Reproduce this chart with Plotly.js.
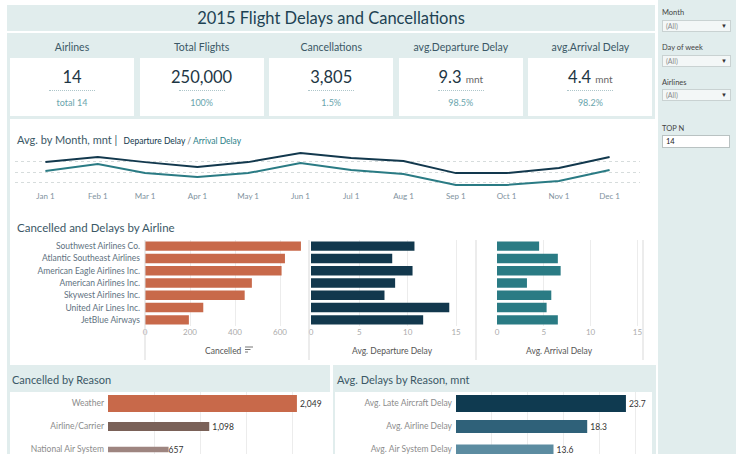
<!DOCTYPE html>
<html><head><meta charset="utf-8">
<script src="https://cdn.plot.ly/plotly-3.0.1.min.js"></script>
<style>
body{margin:0;width:736px;height:454px;overflow:hidden;background:#fff;position:relative;font-family:'Lato',sans-serif;}
.a{position:absolute}
.teal{background:#e1eded}
.kh{position:absolute;top:40px;height:15px;line-height:15px;text-align:center;font-size:10.5px;color:#3b5866;width:124px}
.card{position:absolute;top:58px;height:58px;width:124px;background:#fff}
.kv{position:absolute;top:8px;left:0;width:100%;text-align:center;font-size:16.5px;color:#1d3644;line-height:22px}
.kv span{font-size:10px;color:#666}
.dot{position:absolute;top:32px;left:39px;width:46px;border-top:1px dotted #aec6ca}
.ks{position:absolute;top:38px;left:0;width:100%;text-align:center;font-size:9px;color:#6aa5ad;line-height:14px}
.sl{position:absolute;left:662px;font-size:7.5px;color:#444}
.dd{position:absolute;left:662px;width:64px;height:10px;background:#f3f7f7;border:1px solid #c9d2d2;font-size:7px;color:#8a8a8a;line-height:10px;padding-left:3px;box-sizing:content-box}
.dd b{position:absolute;right:3px;top:0;font-weight:normal;color:#333;font-size:6px}
</style></head><body>

<!-- title -->
<div class="a teal" style="left:7px;top:5px;width:648px;height:26px;"></div>
<div class="a" id="title" style="left:7px;top:5px;width:648px;height:26px;line-height:26px;text-align:center;font-size:16.5px;color:#1d4253;">2015 Flight Delays and Cancellations</div>

<!-- KPI panel -->
<div class="a teal" id="kpi" style="left:7px;top:33px;width:648px;height:86px;"></div>

<!-- main white panel with teal left strip -->
<div class="a teal" style="left:7px;top:119px;width:3px;height:246px;"></div>
<div class="a" style="left:17px;top:130px;height:15px;line-height:15px;white-space:nowrap;">
  <span style="font-size:11px;color:#3b5866;">Avg. by Month, mnt |</span>
  <span style="font-size:8.5px;color:#12384d;">&nbsp;Departure Delay</span><span style="font-size:8.5px;color:#777;"> / </span><span style="font-size:8.5px;color:#2a8088;">Arrival Delay</span>
</div>
<div class="a" id="monthChart" style="left:15px;top:140px;width:625px;height:72px;"></div>

<div class="a" style="left:17px;top:220px;height:16px;line-height:16px;font-size:11.5px;color:#3b5866;white-space:nowrap;">Cancelled and Delays by Airline</div>
<div class="a" id="airlineChart" style="left:0px;top:215px;width:656px;height:150px;"></div>

<!-- bottom panels -->
<div class="a teal" style="left:7px;top:365px;width:323px;height:89px;"></div>
<div class="a" style="left:12px;top:372px;height:16px;line-height:16px;font-size:11px;color:#3b5866;white-space:nowrap;">Cancelled by Reason</div>
<div class="a" style="left:10px;top:392px;width:320px;height:62px;background:#fff;"></div>
<div class="a" id="cancelReasonChart" style="left:10px;top:392px;width:320px;height:80px;"></div>

<div class="a teal" style="left:333px;top:365px;width:323px;height:89px;"></div>
<div class="a" style="left:337px;top:372px;height:16px;line-height:16px;font-size:11px;color:#3b5866;white-space:nowrap;">Avg. Delays by Reason, mnt</div>
<div class="a" style="left:335px;top:392px;width:317px;height:62px;background:#fff;"></div>
<div class="a" id="delayReasonChart" style="left:335px;top:392px;width:317px;height:80px;"></div>

<!-- sidebar -->
<div class="a teal" style="left:658px;top:0px;width:78px;height:454px;"></div>
<div class="sl" style="top:8px;">Month</div>
<div class="dd" style="top:20px;">(All)<b>▼</b></div>
<div class="sl" style="top:43px;">Day of week</div>
<div class="dd" style="top:55px;">(All)<b>▼</b></div>
<div class="sl" style="top:78px;">Airlines</div>
<div class="dd" style="top:89px;">(All)<b>▼</b></div>
<div class="sl" style="top:124px;">TOP N</div>
<div class="a" style="left:662px;top:135px;width:63px;height:11px;background:#fff;border:1px solid #b9c2c2;font-size:7.5px;line-height:11px;padding-left:3px;color:#222;">14</div>

<script>
// ---------------- data ----------------
const kpiLabels = ['Airlines','Total Flights','Cancellations','avg.Departure Delay','avg.Arrival Delay'];
const kpiValues = ['14','250,000','3,805','9.3','4.4'];
const kpiUnits  = ['','','','mnt','mnt'];
const kpiSubs   = ['total 14','100%','1.5%','98.5%','98.2%'];

const months = ['2015-01-01','2015-02-01','2015-03-01','2015-04-01','2015-05-01','2015-06-01',
                '2015-07-01','2015-08-01','2015-09-01','2015-10-01','2015-11-01','2015-12-01'];
const depByMonth = [9.5, 11.8, 9.5, 7.3, 9.5, 13.6, 11.4, 10.0, 4.5, 4.5, 6.8, 11.8];
const arrByMonth = [5.5, 8.6, 4.5, 2.7, 4.5, 9.1, 5.9, 4.1, -0.9, -0.9, 0.9, 5.9];

const airlines = ['Southwest Airlines Co.','Atlantic Southeast Airlines','American Eagle Airlines Inc.',
                  'American Airlines Inc.','Skywest Airlines Inc.','United Air Lines Inc.','JetBlue Airways'];
const cancelled = [693, 622, 607, 475, 443, 259, 195];
const depDelay  = [10.7, 8.4, 10.5, 8.7, 7.6, 14.3, 11.6];
const arrDelay  = [4.5, 6.5, 6.8, 3.2, 5.8, 5.3, 6.5];

const cancelReasons = ['Weather','Airline/Carrier','National Air System'];
const cancelCounts  = [2049, 1098, 657];

const delayReasons = ['Avg. Late Aircraft Delay','Avg. Airline Delay','Avg. Air System Delay'];
const delayMinutes = [23.7, 18.3, 13.6];

// ---------------- styles ----------------
const FONT = "'Lato',sans-serif";
const C_ORANGE = '#c8694a', C_NAVY = '#12384d', C_TEAL = '#2a7b84';
const cfg = {displayModeBar:false, staticPlot:true};

// ---------------- KPI cards ----------------
kpiLabels.forEach((lab, i) => {
  const left = 10 + i * 129.6;
  const h = document.createElement('div');
  h.className = 'kh'; h.style.left = left + 'px'; h.textContent = lab;
  document.body.appendChild(h);
  const c = document.createElement('div');
  c.className = 'card'; c.style.left = left + 'px';
  c.innerHTML = '<div class="kv">' + kpiValues[i] + (kpiUnits[i] ? ' <span>' + kpiUnits[i] + '</span>' : '') +
                '</div><div class="dot"></div><div class="ks">' + kpiSubs[i] + '</div>';
  document.body.appendChild(c);
});

// ---------------- month chart ----------------
Plotly.newPlot('monthChart', [
  {x: months, y: depByMonth, type:'scatter', mode:'lines', line:{color:C_NAVY, width:2}, name:'Departure Delay'},
  {x: months, y: arrByMonth, type:'scatter', mode:'lines', line:{color:C_TEAL, width:2}, name:'Arrival Delay'}
], {
  width:625, height:72, margin:{l:0, r:0, t:5, b:22},
  paper_bgcolor:'rgba(0,0,0,0)', plot_bgcolor:'rgba(0,0,0,0)', showlegend:false,
  font:{family:FONT},
  xaxis:{type:'date', range:['2014-12-14','2015-12-19'], tickvals:months, tickformat:'%b %-d',
         showgrid:false, zeroline:false, ticks:'', tickfont:{size:8, color:'#7f93a0'}},
  yaxis:{range:[-3.2, 17.3], tickvals:[0,5,10], showticklabels:false, gridcolor:'#d6dcdc',
         griddash:'dot', zeroline:false}
}, cfg);

// ---------------- airline chart ----------------
(function(){
  const W = 656, H = 150, L = 145, R = 13, T = 25, B = 39;
  const pw = W - L - R, ph = H - T - B;
  const px = x => (x - L) / pw;
  const py = y => (H - B - (y - 215)) / ph;
  const dom1 = [px(145), px(306)], dom2 = [px(311), px(474)], dom3 = [px(497), px(643)];
  const barW = 0.77;
  const traces = [
    {type:'bar', orientation:'h', y:airlines, x:cancelled, xaxis:'x', yaxis:'y', marker:{color:C_ORANGE}, width:barW},
    {type:'bar', orientation:'h', y:airlines, x:depDelay, xaxis:'x2', yaxis:'y', marker:{color:C_NAVY}, width:barW},
    {type:'bar', orientation:'h', y:airlines, x:arrDelay, xaxis:'x3', yaxis:'y', marker:{color:C_TEAL}, width:barW}
  ];
  const axBase = {showline:false, zeroline:false, ticks:'', gridcolor:'#ececec', tickfont:{size:8, color:'#ababab'}, anchor:'y'};
  const shapes = [145, 309, 476, 643].map(x => ({type:'line', xref:'paper', yref:'paper',
      x0:px(x), x1:px(x), y0:py(240), y1:py(360), line:{color:'#d9d9d9', width:1}}));
  [[0,8],[2.5,5.5],[5,3]].forEach(([dy,len]) => shapes.push({type:'line', xref:'paper', yref:'paper',
      x0:px(245), x1:px(245+len), y0:py(347+dy), y1:py(347+dy), line:{color:'#777', width:1}}));
  const ann = (text, x) => ({text, x:px(x), y:py(351), xref:'paper', yref:'paper', showarrow:false,
      font:{size:8.5, color:'#555'}, xanchor:'center', yanchor:'middle'});
  Plotly.newPlot('airlineChart', traces, {
    width:W, height:H, margin:{l:L, r:R, t:T, b:B},
    paper_bgcolor:'rgba(0,0,0,0)', plot_bgcolor:'rgba(0,0,0,0)', showlegend:false,
    font:{family:FONT},
    xaxis:Object.assign({}, axBase, {domain:dom1, range:[0, (306-145)/0.225], tickvals:[0,200,400,600]}),
    xaxis2:Object.assign({}, axBase, {domain:dom2, range:[0, (474-311)/9.67], tickvals:[0,5,10,15]}),
    xaxis3:Object.assign({}, axBase, {domain:dom3, range:[0, (643-497)/9.36], tickvals:[0,5,10,15]}),
    yaxis:{autorange:'reversed', showgrid:false, zeroline:false, ticks:'', ticklabelstandoff:4,
           tickfont:{size:8.5, color:'#5e7180'}},
    shapes,
    annotations:[ann('Cancelled', 223), ann('Avg. Departure Delay', 392), ann('Avg. Arrival Delay', 559)]
  }, cfg);
})();

// ---------------- bottom charts ----------------
function reasonChart(id, cats, vals, colors, L, W, xmax, gridStep, fmt){
  const maxV = Math.max(...vals);
  Plotly.newPlot(id, [{
    type:'bar', orientation:'h', y:cats, x:vals, marker:{color:colors},
    width: vals.map(v => 0.74 * v / maxV),
    text: vals.map(fmt), textposition:'outside', cliponaxis:false, constraintext:'none',
    textfont:{size:8.5, color:'#333'}
  }], {
    width:W, height:80, margin:{l:L, r:0, t:0, b:11},
    paper_bgcolor:'rgba(0,0,0,0)', plot_bgcolor:'rgba(0,0,0,0)', showlegend:false,
    font:{family:FONT},
    xaxis:{range:[0, xmax], dtick:gridStep, showticklabels:false, gridcolor:'#ececec', zeroline:false, ticks:''},
    yaxis:{range:[2.5, -0.5], showgrid:false, zeroline:false, ticks:'', ticklabelstandoff:3,
           tickfont:{size:8.5, color:'#8c8c8c'}},
  }, cfg);
}
reasonChart('cancelReasonChart', cancelReasons, cancelCounts, [C_ORANGE, '#7a6158', '#9e8580'],
            98, 320, 222/0.0922, 500, v => v.toLocaleString('en-US'));
reasonChart('delayReasonChart', delayReasons, delayMinutes, ['#0f3a50', '#2f6179', '#5c8ca1'],
            121, 317, 196/7.17, 5, v => v.toFixed(1));
</script>
</body></html>
